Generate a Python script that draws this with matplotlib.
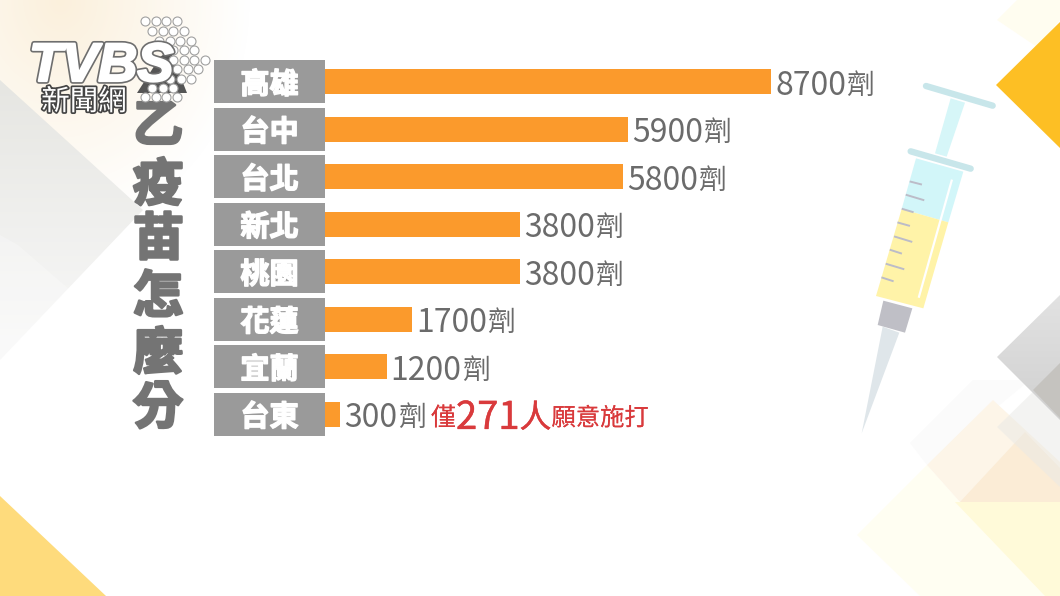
import numpy as np
import matplotlib
matplotlib.use("Agg")
import matplotlib.pyplot as plt
import matplotlib.patheffects as pe
from matplotlib.patches import Polygon

plt.rcParams['font.family'] = ['Noto Sans CJK TC', 'DejaVu Sans']

# DATA
cities = ['高雄', '台中', '台北', '新北', '桃園', '花蓮', '宜蘭', '台東']
doses = [8700, 5900, 5800, 3800, 3800, 1700, 1200, 300]
unit = '劑'
title_chars = ['乙', '疫', '苗', '怎', '麼', '分']
title_y = [127, 186, 240, 298, 355, 409]

W, H = 1060, 596
BAR_COLOR = '#fb9a2c'
BOX_COLOR = '#9a9a9a'
TEXT_GREY = '#6b6b6b'
RED = '#d93a3c'
PX_PER_DOSE = 0.0513


def pixel_axes(fig, z):
    a = fig.add_axes([0, 0, 1, 1], zorder=z)
    a.set_xlim(0, W)
    a.set_ylim(H, 0)
    a.axis('off')
    a.patch.set_alpha(0)
    return a


def poly(a, pts, color, z=1, alpha=1):
    a.add_patch(Polygon(pts, closed=True, fc=color, ec='none', alpha=alpha, zorder=z))


def grad_poly(a, pts, c_top, c_bot, z=1):
    # vertical gradient, clipped to a polygon
    ys = [p[1] for p in pts]
    xs = [p[0] for p in pts]
    c0 = np.array(matplotlib.colors.to_rgb(c_top))
    c1 = np.array(matplotlib.colors.to_rgb(c_bot))
    t = np.linspace(0, 1, 100)[:, None, None]
    img = c0[None, None, :] * (1 - t) + c1[None, None, :] * t
    im = a.imshow(img, extent=[min(xs), max(xs), max(ys), min(ys)], aspect='auto', zorder=z)
    patch = Polygon(pts, closed=True, transform=a.transData, fc='none', ec='none')
    a.add_patch(patch)
    im.set_clip_path(patch)


fig = plt.figure(figsize=(W / 100, H / 100), dpi=100, facecolor='white')

# BACKGROUND
bg = pixel_axes(fig, 0)
yy, xx = np.mgrid[0:260, 0:300]
fade = np.clip(1 - np.hypot((xx - 60) / 190, yy / 230), 0, 1)
cream = np.ones((260, 300, 4))
cream[..., :3] = matplotlib.colors.to_rgb('#fbf0dc')
cream[..., 3] = np.clip(fade * 1.0, 0, 1)
bg.imshow(cream, extent=[0, 300, 260, 0], aspect='auto', zorder=0)
bg.set_xlim(0, W)
bg.set_ylim(H, 0)

grad_poly(bg, [(0, 80), (143, 210), (0, 360)], '#e6e6e2', '#f9f9f9', 1)
poly(bg, [(0, 235), (18, 245), (70, 290), (0, 360)], '#ffffff', 2, 0.25)
poly(bg, [(0, 496), (106, 596), (0, 596)], '#fedb7c', 1)

poly(bg, [(997, 20), (1017, 0), (1060, 0), (1060, 20), (1037, 47)], '#fffdf0', 1)
poly(bg, [(996, 85), (1060, 22), (1060, 148)], '#fdbf24', 2)

poly(bg, [(857, 535), (927, 465), (960, 502), (1060, 502), (1060, 596), (920, 596)], '#fffef2', 1)
poly(bg, [(955, 502), (1060, 502), (1060, 596), (1045, 596)], '#fffad9', 2)
poly(bg, [(910, 443), (973, 380), (1030, 380), (927, 465)], '#fbfbfb', 1)
poly(bg, [(927, 465), (993, 400), (1060, 462), (1060, 502), (960, 502)], '#fdf5e8', 2)
poly(bg, [(960, 502), (1025, 432), (1060, 468), (1060, 502)], '#fbecd6', 3)
poly(bg, [(997, 427), (1040, 385), (1060, 405), (1060, 487)], '#e9e9e6', 3, 0.5)
grad_poly(bg, [(997, 357), (1060, 295), (1060, 420)], '#e2e2e2', '#d0d0d0', 4)
poly(bg, [(1033, 390), (1060, 363), (1060, 418)], '#c5c3bf', 5)


# SYRINGE
def sx(p):
    return (840 + p[0] / 3, 60 + p[1] / 3)


poly(bg, [sx(p) for p in [(128, 800), (178, 818), (65, 1120)]], '#dfe6ea', 6)
poly(bg, [sx(p) for p in [(130, 722), (217, 745), (195, 818), (113, 795)]], '#bfbfc6', 7)
poly(bg, [sx(p) for p in [(332, 115), (375, 128), (320, 290), (285, 280)]], '#d6f6f8', 6)
poly(bg, [sx(p) for p in [(228, 295), (370, 335), (325, 487), (185, 447)]], '#d2f6f9', 6)
poly(bg, [sx(p) for p in [(185, 447), (325, 487), (250, 745), (108, 708)]], '#fff3a8', 6)
for a_, b_ in [((258, 78), (458, 137)), ((212, 274), (392, 326))]:
    p0, p1 = sx(a_), sx(b_)
    bg.plot([p0[0], p1[0]], [p0[1], p1[1]], color='#c8e6ea', lw=4.6, solid_capstyle='round', zorder=8)
p0, p1 = sx((335, 362)), sx((237, 710))
bg.plot([p0[0], p1[0]], [p0[1], p1[1]], color='white', lw=1.6, zorder=8)
ticks = [((212, 365), (243, 373)), ((200, 405), (250, 420)), ((188, 447), (218, 456)),
         ((175, 488), (207, 497)), ((165, 530), (214, 545)), ((152, 570), (183, 580)),
         ((140, 612), (190, 627)), ((127, 653), (158, 663))]
for a_, b_ in ticks:
    p0, p1 = sx(a_), sx(b_)
    bg.plot([p0[0], p1[0]], [p0[1], p1[1]], color='#bcbcc8', lw=1.4, zorder=8)

# TITLE
for ch, y in zip(title_chars, title_y):
    bg.text(158, y, ch, fontsize=36.5, fontweight='bold', color='#747474', ha='center', va='center', zorder=9,
            path_effects=[pe.withStroke(linewidth=1.8, foreground='#747474')])

# BARS
ax = fig.add_axes([214 / W, 1 - 438 / H, (W - 214) / W, 380 / H], zorder=1)
ax.patch.set_alpha(0)
x_min = -(325 - 214) / PX_PER_DOSE
ax.set_xlim(x_min, (W - 325) / PX_PER_DOSE)
ax.set_ylim(len(cities) - 0.5, -0.5)
ax.axis('off')
y_pos = np.arange(len(cities))
ax.barh(y_pos, doses, height=0.53, color=BAR_COLOR)
ax.barh(y_pos, [-x_min] * len(cities), left=x_min, height=0.905, color=BOX_COLOR)

for y, city, d in zip(y_pos, cities, doses):
    ax.annotate(city, xy=(x_min / 2, y), xytext=(0, -2), textcoords='offset points', fontsize=21,
                fontweight='bold', color='white', ha='center', va='center',
                path_effects=[pe.withStroke(linewidth=1, foreground='white')])
    num = ax.annotate(str(d), xy=(d, y), xytext=(3, -3), textcoords='offset points', fontsize=23,
                      color=TEXT_GREY, va='center', ha='left')
    last = ax.annotate(unit, xy=(1, 0.5), xycoords=num, xytext=(0, 0), textcoords='offset points',
                       fontsize=20, color=TEXT_GREY, va='center', ha='left')

# note beside the last bar
note = [('僅', 18, 0), ('271', 27.5, 0.3), ('人', 23, 0.3), ('願意施打', 17.5, 0)]
prev = last
gap = 4
for txt, size, stroke in note:
    prev = ax.annotate(txt, xy=(1, 0.5), xycoords=prev, xytext=(gap, 0), textcoords='offset points',
                       fontsize=size, color=RED, va='center', ha='left',
                       path_effects=[pe.withStroke(linewidth=stroke, foreground=RED)])
    gap = 0

# LOGO
top = pixel_axes(fig, 2)
poly(top, [(137, 93), (160, 57), (170, 50), (187, 93)], '#555555', 1)
rows = [(21, 145, 4), (31, 152, 4), (41, 159, 4), (50, 173, 3), (60, 173, 4), (69, 177, 3),
        (79, 170, 3), (88, 152, 3), (97, 145, 4)]
for y, x0, n in rows:
    top.scatter([x0 + i * 10.6 for i in range(n)], [y] * n, s=42, color='white', edgecolor='#a0a0a0',
                linewidth=0.8, zorder=2)
top.text(29, 81, 'TVBS', family=['Liberation Sans'], fontsize=39, fontweight='bold', style='italic', color='white',
         ha='left', va='baseline', zorder=3,
         path_effects=[pe.Stroke(linewidth=4, foreground='#6e6e6e'),
                       pe.Stroke(linewidth=1.6, foreground='white'), pe.Normal()])
top.text(84, 102, '新聞網', fontsize=20.5, color='white', ha='center', va='center', zorder=3,
         path_effects=[pe.withStroke(linewidth=2.5, foreground='#444444')])

fig.savefig('out.png', dpi=100)
